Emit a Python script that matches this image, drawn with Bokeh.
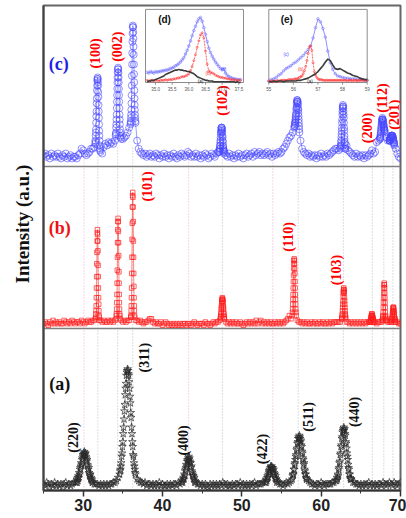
import math
from bokeh.plotting import figure
from bokeh.models import Range1d, FixedTicker, SingleIntervalTicker, Title, ColumnDataSource
from bokeh.core.properties import value
from bokeh.embed import file_html
from bokeh.resources import INLINE

# ======================= DATA =======================
# base scan grid: 2-theta from 25.0 to 70.0 deg, step 0.2 (226 points)
X0, DX = 25.0, 0.2

# ---- (a) ZnFe2O4 (black stars), intensity in panel units (0-100)
a_base = [4, 3, 5, 4, 2, 4, 3, 5, 3, 4,
          3, 4, 2, 4, 5, 3, 4, 3, 4, 5,
          5, 5, 7, 10, 16, 22, 23, 20, 14, 9,
          7, 5, 4, 4, 4, 3, 4, 3, 4, 3,
          4, 3, 4, 4, 5, 5, 6, 8, 10, 17,
          30, 49, 67, 75, 67, 48, 30, 17, 10, 7,
          6, 5, 5, 4, 5, 3, 4, 4, 3, 4,
          3, 4, 3, 5, 3, 4, 3, 3, 4, 3,
          4, 3, 4, 4, 3, 5, 4, 5, 7, 10,
          16, 20, 19, 15, 10, 7, 5, 4, 4, 3,
          4, 3, 4, 3, 2, 4, 3, 4, 3, 4,
          3, 4, 3, 5, 4, 3, 4, 3, 3, 4,
          3, 4, 4, 3, 5, 3, 4, 3, 4, 3,
          4, 3, 4, 5, 3, 4, 4, 4, 5, 5,
          5, 7, 10, 13, 14, 13, 10, 7, 5, 4,
          4, 3, 4, 5, 4, 5, 6, 8, 12, 20,
          30, 33, 32, 25, 17, 12, 7, 6, 5, 4,
          4, 3, 4, 4, 3, 5, 4, 3, 4, 4,
          4, 4, 5, 5, 6, 8, 12, 21, 31, 38,
          37, 31, 21, 12, 7, 5, 5, 4, 4, 3,
          4, 3, 4, 3, 4, 5, 3, 4, 3, 4,
          3, 4, 4, 3, 5, 4, 3, 4, 5, 4,
          3, 5, 4, 3, 4, 5]
A_STEP = 0.05   # fine scan step inside the peak windows
a_220 = [5, 7, 5, 8, 6, 9, 8, 11, 10, 13, 14, 15, 17, 16, 19, 20, 22, 21, 23, 22, 24,
         23, 22, 23, 21, 20, 18, 19, 16, 15, 13, 14, 11, 10, 9, 10, 7, 8, 6, 7, 5]
a_311 = [10, 12, 13, 15, 17, 21, 23, 27, 30, 35, 39, 44, 49, 53, 59, 63, 66, 71, 73, 74, 75,
         74, 72, 71, 67, 63, 58, 54, 48, 45, 39, 35, 30, 27, 22, 21, 17, 15, 13, 11, 10]
a_400 = [6, 5, 7, 8, 7, 10, 9, 12, 13, 14, 16, 15, 18, 19, 18, 20, 21,
         19, 20, 18, 17, 17, 14, 15, 12, 11, 10, 9, 9, 7, 8, 5, 6]
a_422 = [5, 7, 6, 8, 9, 8, 10, 12, 11, 13, 12, 14, 15, 14, 15,
         14, 13, 14, 12, 13, 11, 10, 10, 8, 9, 7, 7, 5, 6]
a_511 = [7, 9, 10, 10, 13, 13, 16, 17, 19, 21, 22, 25, 26, 29, 30, 32, 33, 32, 34,
         33, 32, 30, 31, 28, 27, 24, 23, 20, 19, 16, 17, 13, 12, 10, 10, 8, 7]
a_440 = [6, 8, 7, 10, 9, 13, 14, 17, 18, 22, 23, 27, 28, 32, 33, 36, 37, 38, 39,
         37, 38, 35, 34, 30, 29, 26, 23, 21, 19, 16, 14, 13, 10, 10, 8, 7, 7]
a_windows = [(29.15, a_220), (34.60, a_311), (42.50, a_400),
             (53.05, a_422), (56.35, a_511), (61.95, a_440)]

# ---- (b) ZnO (red squares)
b_base = [3, 4, 3, 2, 4, 3, 5, 3, 4, 3,
          4, 3, 3, 5, 4, 3, 4, 3, 5, 4,
          3, 4, 4, 3, 5, 4, 3, 4, 5, 4,
          4, 5, 5, 9, 60, 9, 5, 4, 5, 4,
          4, 5, 4, 5, 4, 5, 9, 66, 9, 5,
          4, 5, 4, 5, 5, 7, 80, 25, 5, 5,
          4, 5, 4, 3, 4, 4, 5, 6, 6, 4,
          3, 4, 3, 3, 4, 2, 3, 4, 3, 2,
          3, 2, 3, 2, 3, 2, 3, 2, 3, 3,
          2, 3, 3, 2, 3, 4, 3, 2, 3, 3,
          3, 2, 4, 3, 3, 2, 3, 4, 3, 4,
          4, 5, 14, 18, 6, 4, 3, 4, 3, 4,
          3, 4, 3, 3, 4, 3, 2, 3, 4, 3,
          4, 3, 4, 3, 5, 3, 4, 5, 3, 4,
          3, 4, 3, 4, 3, 3, 4, 3, 4, 3,
          4, 3, 4, 5, 6, 8, 6, 18, 43, 15,
          5, 4, 4, 3, 4, 3, 4, 3, 3, 4,
          3, 4, 3, 3, 4, 3, 4, 3, 3, 4,
          3, 4, 3, 4, 4, 4, 4, 4, 6, 24,
          15, 4, 4, 3, 4, 3, 4, 3, 4, 3,
          4, 3, 4, 3, 4, 4, 5, 9, 5, 4,
          3, 4, 4, 4, 9, 26, 5, 4, 4, 4,
          11, 11, 4, 4, 3, 3]
B_STEP = 0.02
b_100 = [6, 7, 9, 11, 14, 19, 25, 32, 40, 47, 54, 59, 61, 58, 54, 48, 39, 32, 25, 19, 15, 11, 8, 7, 5]
b_002 = [6, 8, 9, 12, 16, 21, 28, 36, 44, 53, 61, 66, 68, 66, 60, 53, 45, 35, 28, 21, 16, 12, 9, 8, 6]
b_101 = [7, 8, 11, 14, 19, 25, 34, 44, 55, 65, 75, 82, 84, 81, 75, 66, 54, 44, 34, 26, 19, 14, 11, 8, 7]
b_102 = [6, 7, 8, 9, 10, 12, 13, 14, 16, 17, 18, 18, 19, 18, 18, 17, 16, 14, 13, 12, 10, 9, 8, 7, 6]
b_110 = [8, 10, 12, 15, 18, 21, 25, 29, 33, 37, 40, 42, 43, 42, 40, 37, 34, 29, 25, 21, 18, 15, 12, 10, 8]
b_103 = [6, 7, 8, 9, 11, 13, 15, 17, 20, 22, 23, 24, 25, 24, 23, 22, 19, 17, 15, 13, 11, 9, 8, 7, 6]
b_200 = [4, 4, 4, 5, 5, 5, 6, 7, 7, 8, 8, 9, 9, 8, 8, 8, 7, 7, 6, 6, 5, 5, 4, 4, 4]
b_112 = [5, 5, 6, 7, 8, 10, 13, 16, 19, 22, 25, 27, 28, 27, 25, 22, 19, 16, 13, 10, 8, 7, 6, 5, 5]
b_201 = [4, 5, 5, 6, 6, 7, 8, 9, 10, 11, 12, 13, 13, 13, 12, 11, 10, 9, 8, 7, 6, 6, 5, 5, 4]
b_windows = [(31.56, b_100), (34.16, b_002), (36.01, b_101), (47.31, b_102), (56.36, b_110),
             (62.61, b_103), (66.16, b_200), (67.71, b_112), (68.86, b_201)]

# ---- (c) ZnO-ZnFe2O4 (blue circles)
c_base = [7, 8, 6, 7, 5, 8, 6, 7, 6, 8,
          6, 5, 7, 6, 8, 5, 6, 7, 5, 6,
          6, 5, 7, 8, 11, 10, 8, 7, 8, 9,
          11, 11, 12, 20, 55, 30, 9, 8, 12, 14,
          13, 15, 14, 15, 14, 16, 40, 60, 36, 17,
          17, 18, 19, 21, 24, 28, 77, 57, 27, 16,
          11, 9, 8, 7, 8, 6, 7, 8, 6, 7,
          6, 8, 7, 5, 7, 6, 8, 6, 7, 5,
          7, 6, 8, 6, 5, 7, 6, 8, 7, 6,
          7, 9, 8, 6, 7, 6, 8, 6, 7, 5,
          7, 6, 8, 7, 5, 6, 8, 7, 6, 8,
          9, 11, 23, 21, 9, 7, 6, 8, 6, 7,
          5, 7, 6, 8, 6, 7, 5, 7, 8, 6,
          7, 8, 6, 9, 7, 8, 9, 7, 8, 7,
          8, 9, 7, 8, 6, 8, 7, 8, 9, 8,
          9, 11, 12, 14, 16, 18, 19, 21, 24, 31,
          40, 27, 16, 11, 9, 8, 7, 8, 6, 7,
          6, 7, 5, 7, 6, 8, 6, 7, 6, 8,
          7, 8, 9, 10, 11, 11, 10, 11, 22, 37,
          22, 13, 10, 9, 8, 7, 6, 8, 6, 7,
          6, 7, 5, 7, 6, 7, 8, 10, 8, 9,
          15, 16, 17, 28, 29, 21, 18, 16, 16, 18,
          19, 14, 11, 8, 6, 5]
C_STEP = 0.02
c_100 = [14, 16, 15, 19, 21, 23, 27, 31, 34, 39, 42, 47, 50, 53, 54, 55,
         54, 52, 50, 46, 43, 38, 34, 30, 26, 22, 19, 16, 13, 11, 10]
c_002 = [19, 20, 21, 24, 26, 29, 32, 36, 40, 44, 48, 52, 55, 58, 60, 61,
         60, 58, 55, 52, 48, 44, 40, 36, 32, 29, 26, 23, 21, 19, 18]
c_101 = [26, 27, 28, 30, 32, 35, 39, 44, 50, 56, 63, 70, 77, 82, 86, 87,
         86, 83, 79, 74, 69, 63, 57, 52, 47, 42, 38, 35, 32, 30, 28]
c_102 = [9, 9, 10, 11, 11, 13, 13, 15, 16, 18, 20, 21, 22, 23, 24, 24,
         24, 23, 22, 21, 19, 18, 16, 15, 13, 12, 11, 10, 10, 9, 8]
c_110 = [25, 25, 26, 27, 27, 28, 29, 30, 31, 32, 33, 35, 36, 37, 39, 40,
         41, 41, 40, 40, 39, 38, 36, 35, 33, 31, 29, 27, 25, 23, 21]
c_103 = [12, 13, 13, 15, 16, 18, 20, 22, 24, 27, 29, 32, 34, 36, 37, 38,
         37, 36, 34, 32, 30, 27, 24, 22, 19, 17, 15, 14, 12, 11, 11]
c_112 = [17, 18, 18, 19, 20, 21, 22, 23, 24, 25, 26, 27, 28, 29, 29, 30,
         29, 29, 28, 28, 27, 26, 26, 25, 24, 24, 23, 23, 22, 22, 21]
c_201 = [16, 16, 16, 17, 17, 17, 17, 18, 18, 18, 18, 19, 19, 19, 19, 19,
         19, 19, 19, 18, 18, 18, 17, 17, 16, 16, 15, 15, 14, 14, 13]
c_windows = [(31.52, c_100), (34.10, c_002), (35.97, c_101), (47.15, c_102),
             (56.65, c_110), (62.45, c_103), (67.42, c_112), (68.62, c_201)]

# ---- inset (d): 34.75-37.55 deg, step 0.05
D_X0, D_DX = 34.75, 0.05
d_c = [14, 13, 15, 14, 13, 15, 14, 15, 15, 16, 16, 17, 17, 18, 19, 20, 21, 23, 24, 26,
       28, 31, 34, 39, 44, 50, 57, 64, 71, 77, 83, 87, 89, 84, 75, 66, 56, 47, 41, 36,
       32, 28, 25, 22, 19, 18, 19, 13, 10, 8, 7, 6, 5, 5, 4, 4, 4]
d_b = [3, 2, 3, 3, 2, 3, 3, 2, 3, 3, 3, 4, 3, 4, 4, 4, 5, 5, 6, 6,
       7, 8, 8, 9, 10, 12, 16, 22, 30, 38, 48, 57, 65, 68, 61, 43, 25, 16, 14, 13,
       12, 10, 9, 8, 7, 7, 6, 6, 5, 5, 4, 4, 4, 3, 3, 3, 3]
d_a = [1, 2, 2, 3, 3, 4, 5, 6, 7, 8, 9, 11, 12, 13, 14, 15, 16, 17, 17, 18,
       17, 17, 16, 16, 15, 15, 14, 13, 12, 10, 8, 7, 6, 5, 4, 3, 3, 2, 2, 2,
       1, 1, 1, 1, 1, 1, 1, 1, 1, 1, 1, 1, 1, 0, 1, 0, 0]
d_ticks = [35.0, 35.5, 36.0, 36.5, 37.0, 37.5]
d_tick_labels = ["35.0", "35.5", "36.0", "36.5", "37.0", "37.5"]

# ---- inset (e): 55-59 deg
E_X0 = 55.0
E_DX_C, E_DX_B, E_DX_A = 0.1, 0.05, 0.1
e_c = [2, 4, 5, 7, 10, 12, 16, 19, 21, 23, 26, 28, 31, 34, 37, 41, 45, 50, 61, 75,
       87, 83, 74, 62, 43, 27, 18, 12, 9, 8, 7, 6, 6, 5, 5, 5, 4, 4, 4, 3, 3]
e_b = [2, 2, 2, 1, 2, 2, 2, 3, 2, 2, 3, 3, 3, 3, 3, 3, 4, 4, 4, 4,
       4, 5, 5, 5, 6, 7, 8, 9, 12, 16, 22, 30, 40, 49, 50, 44, 27, 15, 10, 7,
       5, 4, 4, 4, 3, 3, 3, 3, 3, 3, 3, 3, 3, 3, 3, 3, 3, 3, 3, 3,
       3, 3, 3, 3, 2, 3, 3, 3, 2, 3, 3, 3, 2, 3, 3, 3, 3, 3, 3, 3, 3]
e_a = [1, 1, 2, 1, 2, 2, 1, 2, 2, 2, 2, 2, 3, 3, 4, 5, 6, 8, 10, 12,
       15, 19, 23, 28, 32, 30, 24, 19, 18, 19, 17, 15, 13, 12, 10, 9, 8, 6, 5, 4, 4]
e_ticks = [55, 56, 57, 58, 59]
e_tick_labels = ["55", "56", "57", "58", "59"]

# ---- reference lines (2-theta)
zno_lines = [31.85, 34.35, 36.25, 47.55, 57.1, 62.8, 66.45, 67.9, 69.05]
spinel_lines = [30.1, 43.3, 53.9]

# ---- peak labels (Miller indices)
c_hkl = ["(100)", "(002)", "(102)", "(200)", "(112)", "(201)"]
b_hkl = ["(101)", "(110)", "(103)"]
a_hkl = ["(311)", "(220)", "(400)", "(422)", "(511)", "(440)"]

# ======================= LAYOUT / STYLE =======================
PANEL = 100.0
c_hkl_xy = [(31.58, 69.8), (34.35, 74.0), (47.55, 40.7), (65.8, 23.8), (67.68, 42.3), (69.19, 32.0)]
b_hkl_xy = [(38.12, 87.7), (55.92, 56.5), (61.9, 36.1)]
a_hkl_xy = [(37.74, 82.0), (28.75, 32.7), (42.6, 30.9), (52.65, 25.6), (58.43, 45.4), (64.16, 48.5)]


def build(base, windows, step):
    xs = [X0 + DX * i for i in range(len(base))]
    spans = [(s, s + step * (len(v) - 1)) for s, v in windows]
    pts = [(x, y) for x, y in zip(xs, base)
           if not any(lo - 1e-6 <= x <= hi + 1e-6 for lo, hi in spans)]
    for s, v in windows:
        pts.extend((s + step * i, y) for i, y in enumerate(v))
    pts.sort()
    return [q[0] for q in pts], [q[1] for q in pts]


a_x, a_y = build(a_base, a_windows, A_STEP)
b_x, b_y = build(b_base, b_windows, B_STEP)
c_x, c_y = build(c_base, c_windows, C_STEP)

XR = (25.0, 70.0)
YR = (0.0, 299.4)

p = figure(width=406, height=518, x_range=Range1d(*XR), y_range=Range1d(*YR),
           output_backend="svg", toolbar_location=None,
           min_border_left=43, min_border_right=6, min_border_top=5, min_border_bottom=28)
p.xgrid.visible = False
p.ygrid.visible = False
p.background_fill_color = "white"
p.border_fill_color = "white"
p.outline_line_color = "#666666"
p.outline_line_width = 2

p.xaxis.ticker = SingleIntervalTicker(interval=10, num_minor_ticks=2)
p.xaxis.axis_line_width = 2
p.xaxis.axis_line_color = "#333333"
p.xaxis.major_tick_out = 6
p.xaxis.major_tick_in = 0
p.xaxis.minor_tick_out = 3
p.xaxis.minor_tick_in = 0
p.xaxis.major_tick_line_width = 1.5
p.xaxis.major_tick_line_color = "#333333"
p.xaxis.minor_tick_line_color = "#333333"
p.xaxis.major_label_standoff = 2
p.xaxis.major_label_text_font = "Liberation Sans"
p.xaxis.major_label_text_font_style = "bold"
p.xaxis.major_label_text_font_size = "16px"
p.xaxis.major_label_text_color = "#222222"

p.yaxis.ticker = FixedTicker(ticks=[])
p.yaxis.axis_line_width = 2
p.yaxis.axis_line_color = "#444444"
p.yaxis.major_tick_line_color = None
p.yaxis.minor_tick_line_color = None
p.yaxis.major_tick_out = 0
p.yaxis.minor_tick_out = 0
p.yaxis.major_label_standoff = 0
p.yaxis.major_label_text_font_size = "0px"

# y axis title, placed in the left border
p.add_layout(Title(text="Intensity (a.u.)", align="left", offset=207,
                   vertical_align="middle", standoff=19,
                   text_font="Liberation Serif", text_font_style="bold",
                   text_font_size="19px", text_color="#111111"), "left")

# reference lines
p.segment(x0=zno_lines, y0=0, x1=zno_lines, y1=212, line_color="#bdbdbd",
          line_dash="1 2", line_width=1)
p.segment(x0=spinel_lines, y0=0, x1=spinel_lines, y1=212, line_color="#f0a8dc",
          line_dash="1 2", line_width=1)
# panel separators
p.segment(x0=XR[0], y0=[PANEL, 2 * PANEL], x1=XR[1], y1=[PANEL, 2 * PANEL],
          line_color="#808080", line_width=1.5)

series = [
    (a_x, a_y, 0.0, "#2a2a2a", "star", 8, 0.7),
    (b_x, b_y, PANEL, "#ff2020", "square", 4.5, 0.7),
    (c_x, c_y, 2 * PANEL, "#4646ff", "circle", 7, 0.6),
]
for xs, ys, off, col, mk, sz, lw in series:
    src = ColumnDataSource(dict(x=xs, y=[off + v for v in ys]))
    p.line("x", "y", source=src, line_color=col, line_width=0.6, line_alpha=0.9)
    p.scatter("x", "y", source=src, marker=mk, size=sz, line_color=col,
              fill_color=None, line_width=lw)

# Miller index labels
def hkl_text(labels, xy, off, color):
    p.text(x=[q[0] for q in xy], y=[off + q[1] for q in xy], text=labels,
           angle=math.pi / 2, text_align="center", text_baseline="middle",
           text_font=value("Liberation Serif"), text_font_style="bold",
           text_font_size=value("14px"), text_color=color)

hkl_text(c_hkl, c_hkl_xy, 2 * PANEL, "#ff0000")
hkl_text(b_hkl, b_hkl_xy, PANEL, "#ff0000")
hkl_text(a_hkl, a_hkl_xy, 0.0, "#111111")

# sample labels
p.text(x=[26.92, 27.05, 27.05], y=[263.0, 162.0, 65.7], text=["(c)", "(b)", "(a)"],
       text_align="center", text_baseline="middle", text_font=value("Liberation Serif"),
       text_font_style="bold", text_font_size=value("18px"),
       text_color=["#1f1fe6", "#ee1111", "#111111"])

# ---------------- insets via extra ranges ----------------
def extra_range(main_lo, main_hi, box_lo, box_hi, in_lo, in_hi):
    s = (in_hi - in_lo) / (box_hi - box_lo)
    return Range1d(in_lo + (main_lo - box_lo) * s, in_lo + (main_hi - box_lo) * s)

IY = (0.0, 100.0)
BOX_Y = (251.85, 297.0)
D_RANGE = (34.7, 37.64)
E_RANGE = (55.0, 59.0)
p.extra_x_ranges = {
    "dx": extra_range(XR[0], XR[1], 37.86, 50.21, *D_RANGE),
    "ex": extra_range(XR[0], XR[1], 53.40, 65.80, *E_RANGE),
}
p.extra_y_ranges = {"iy": extra_range(YR[0], YR[1], BOX_Y[0], BOX_Y[1], *IY)}

for rname, (lo, hi) in (("dx", D_RANGE), ("ex", E_RANGE)):
    p.quad(left=lo, right=hi, bottom=IY[0], top=IY[1], x_range_name=rname,
           y_range_name="iy", fill_color="white", line_color="#8c8c8c", line_width=1)


def inset_curves(rname, x0, steps, ys_list):
    cols = [("#7474ff", 0.8, None, "circle", 2.6), ("#ff3a3a", 0.8, "2 1", "circle", 2.0),
            ("#3c3c3c", 1.6, None, None, 0)]
    for (col, lw, dash, mk, sz), step, ys in zip(cols, steps, ys_list):
        xs = [x0 + step * i for i in range(len(ys))]
        kw = dict(x_range_name=rname, y_range_name="iy")
        if dash:
            p.line(xs, ys, line_color=col, line_width=lw, line_dash=dash, **kw)
        else:
            p.line(xs, ys, line_color=col, line_width=lw, **kw)
        if mk:
            p.scatter(xs, ys, marker=mk, size=sz, line_color=col, fill_color=None,
                      line_width=0.6, **kw)


inset_curves("dx", D_X0, [D_DX, D_DX, D_DX], [d_c, d_b, d_a])
inset_curves("ex", E_X0, [E_DX_C, E_DX_B, E_DX_A], [e_c, e_b, e_a])

for rname, ticks, labs in (("dx", d_ticks, d_tick_labels), ("ex", e_ticks, e_tick_labels)):
    p.segment(x0=ticks, y0=0, x1=ticks, y1=-3, x_range_name=rname, y_range_name="iy",
              line_color="#777777", line_width=0.8)
    p.text(x=ticks, y=[-9] * len(ticks), text=labs, x_range_name=rname, y_range_name="iy",
           text_align="center", text_baseline="middle", text_font=value("Liberation Sans"),
           text_font_size=value("4.5px"), text_color="#555555")

# inset titles and curve tags
p.text(x=[35.27], y=[86], text=["(d)"], x_range_name="dx", y_range_name="iy",
       text_align="center", text_baseline="middle", text_font=value("Liberation Sans"),
       text_font_style="bold", text_font_size=value("10px"), text_color="#111111")
p.text(x=[55.73], y=[86], text=["(e)"], x_range_name="ex", y_range_name="iy",
       text_align="center", text_baseline="middle", text_font=value("Liberation Sans"),
       text_font_style="bold", text_font_size=value("10px"), text_color="#111111")
tag_cols = ["#4a4aff", "#ff2a2a", "#222222"]
p.text(x=[37.04, 36.58, 36.35], y=[18, 12.5, 1.5], text=["(c)", "(b)", "(a)"],
       x_range_name="dx", y_range_name="iy", text_align="center", text_baseline="middle",
       text_font=value("Liberation Sans"), text_font_size=value("4.5px"), text_color=tag_cols)
p.text(x=[55.7, 56.3, 56.67], y=[39, 18, 2], text=["(c)", "(b)", "(a)"],
       x_range_name="ex", y_range_name="iy", text_align="center", text_baseline="middle",
       text_font=value("Liberation Sans"), text_font_size=value("4.5px"), text_color=tag_cols)

open("out.html", "w").write(file_html(p, INLINE))
